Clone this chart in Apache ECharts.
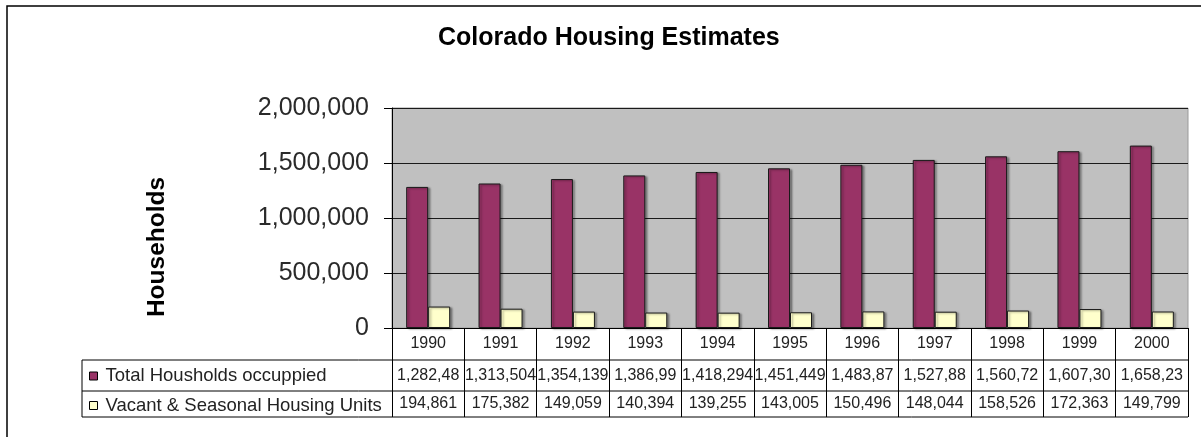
<!DOCTYPE html>
<html>
<head>
<meta charset="utf-8">
<script src="https://cdn.jsdelivr.net/npm/echarts@6/dist/echarts.min.js"></script>
<style>
  html, body { margin: 0; padding: 0; background: #fff; }
  #chart { width: 1201px; height: 437px; }
</style>
</head>
<body>
<div id="chart"></div>
<script>
// data
const years = ["1990", "1991", "1992", "1993", "1994", "1995", "1996", "1997", "1998", "1999", "2000"];
const occupied = [1282489, 1313504, 1354139, 1386993, 1418294, 1451449, 1483872, 1527884, 1560725, 1607306, 1658231];
// the data table shows some of these cut short, as in the original
const occupiedShown = ["1,282,48", "1,313,504", "1,354,139", "1,386,99", "1,418,294", "1,451,449", "1,483,87", "1,527,88", "1,560,72", "1,607,30", "1,658,23"];
const vacant = [194861, 175382, 149059, 140394, 139255, 143005, 150496, 148044, 158526, 172363, 149799];
const yTicks = [0, 500000, 1000000, 1500000, 2000000];
const seriesNames = ["Total Housholds occuppied", "Vacant & Seasonal Housing Units"];

const font = "Liberation Sans, Arial, sans-serif";
const fmt = (v) => v.toLocaleString("en-US");

const chartDom = document.getElementById("chart");
const myChart = echarts.init(chartDom);

function tableAxis(labels, margin) {
  return {
    type: "category",
    gridIndex: 0,
    position: "bottom",
    data: labels,
    axisLine: { show: false },
    axisTick: { show: false },
    axisLabel: {
      interval: 0,
      margin: margin,
      fontFamily: font,
      fontSize: 16,
      color: "#222",
    },
  };
}

const option = {
  animation: false,
  backgroundColor: "#fff",
  title: {
    text: "Colorado Housing Estimates",
    left: 433,
    top: 21,
    textStyle: {
      fontFamily: font,
      fontSize: 25,
      fontWeight: "bold",
      color: "#000",
    },
  },
  legend: {
    data: seriesNames,
    orient: "vertical",
    left: 89,
    top: 366.5,
    padding: 0,
    icon: "rect",
    itemWidth: 8,
    itemHeight: 8,
    itemGap: 10.5,
    itemStyle: { borderColor: "#000", borderWidth: 1 },
    textStyle: {
      fontFamily: font,
      fontSize: 18.5,
      lineHeight: 18,
      color: "#222",
      padding: [0, 0, 0, 3],
    },
    selectedMode: false,
  },
  grid: {
    left: 392,
    right: 13,
    top: 108,
    bottom: 109,
    show: true,
    backgroundColor: "#C0C0C0",
    borderColor: "#9a9a9a",
    borderWidth: 1,
  },
  xAxis: [
    {
      type: "category",
      data: years,
      axisLine: { show: true, lineStyle: { color: "#000", width: 1 } },
      axisTick: {
        show: true,
        length: 89,
        lineStyle: { color: "#000", width: 1 },
      },
      axisLabel: {
        interval: 0,
        margin: 8,
        fontFamily: font,
        fontSize: 16,
        color: "#222",
      },
    },
    tableAxis(occupiedShown, 40),
    tableAxis(vacant.map(fmt), 68),
  ],
  yAxis: {
    type: "value",
    min: yTicks[0],
    max: yTicks[yTicks.length - 1],
    interval: yTicks[1] - yTicks[0],
    name: "Households",
    nameLocation: "middle",
    nameRotate: 90,
    nameGap: 222,
    nameTextStyle: {
      fontFamily: font,
      fontSize: 24.5,
      fontWeight: "bold",
      color: "#000",
      padding: [0, 58, 0, 0],
    },
    axisLine: { show: true, lineStyle: { color: "#000", width: 1 } },
    axisTick: { show: true, length: 8, lineStyle: { color: "#000" } },
    axisLabel: {
      margin: 23,
      fontFamily: font,
      fontSize: 25,
      color: "#2a2a2a",
      formatter: (v) => fmt(v),
    },
    splitLine: { show: true, lineStyle: { color: "#1a1a1a", width: 1 } },
  },
  series: [
    {
      name: seriesNames[0],
      type: "bar",
      data: occupied,
      barWidth: 22,
      barGap: "0%",
      itemStyle: {
        color: "#993366",
        borderColor: "#1a1a1a",
        borderWidth: 1,
        shadowColor: "rgba(0,0,0,0.35)",
        shadowBlur: 2,
        shadowOffsetX: 2,
        shadowOffsetY: 1,
      },
    },
    {
      name: seriesNames[1],
      type: "bar",
      data: vacant,
      barWidth: 22,
      itemStyle: {
        color: "#FFFFCC",
        borderColor: "#1a1a1a",
        borderWidth: 1,
        shadowColor: "rgba(0,0,0,0.35)",
        shadowBlur: 2,
        shadowOffsetX: 2,
        shadowOffsetY: 1,
      },
    },
  ],
};

myChart.setOption(option);

// outer frame and the table's rules, placed from the grid's own edges
const gridRect = myChart.getModel().getComponent("grid").coordinateSystem.getRect();
const tableLeft = 82;
const tableRight = gridRect.x + gridRect.width;
const rowLines = [360, 391, 417];

const graphics = [
  {
    type: "rect",
    shape: { x: 7, y: 6, width: 1400, height: 600 },
    style: { fill: null, stroke: "#000", lineWidth: 1.5 },
    silent: true,
  },
  {
    type: "line",
    shape: { x1: tableLeft, y1: rowLines[0], x2: tableLeft, y2: rowLines[2] },
    style: { stroke: "#000", lineWidth: 1 },
    silent: true,
  },
];
rowLines.forEach((y) => {
  graphics.push({
    type: "line",
    shape: { x1: tableLeft, y1: y, x2: tableRight, y2: y },
    style: { stroke: "#000", lineWidth: 1 },
    silent: true,
  });
});

myChart.setOption({ graphic: graphics });
</script>
</body>
</html>
